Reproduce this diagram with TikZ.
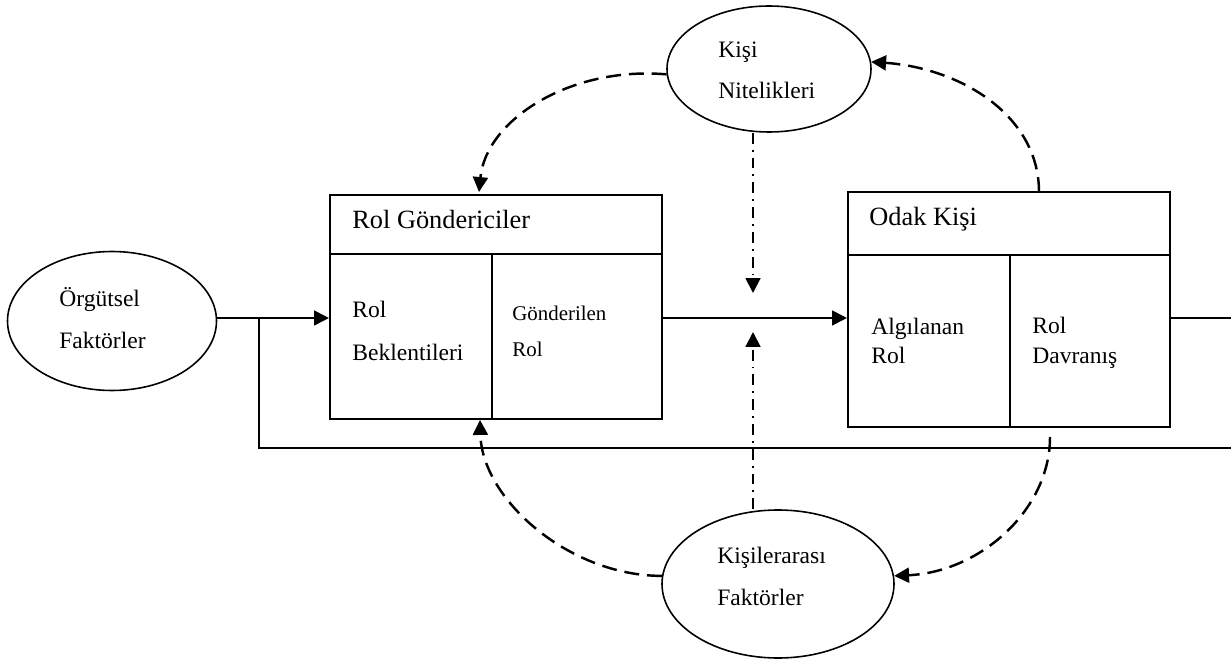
\documentclass[tikz,border=0pt]{standalone}
\usepackage{fontspec}
\setmainfont{Liberation Serif}
\usetikzlibrary{arrows.meta,shapes.geometric}
\newcommand\pxl[1]{#1*0.02cm}
\begin{document}
\begin{tikzpicture}[x=0.02cm,y=-0.02cm,
  frame/.style={draw, line width=1.2pt, inner sep=0pt, rectangle},
  oval/.style={draw, ellipse, line width=0.9pt, inner sep=0pt},
  lbl/.style={anchor=base west, inner sep=0pt, font=\fontsize{13.4}{16}\selectfont},
  head/.style={lbl, font=\fontsize{15}{18}\selectfont},
  small/.style={lbl, font=\fontsize{11.9}{14}\selectfont},
  flow/.style={line width=1.1pt},
  tip/.style={-{Triangle[length=8.5pt,width=8.5pt]}},
  fb/.style={line width=0.9pt},
  loopline/.style={line width=1.4pt, dash pattern=on 8.5pt off 4.5pt},
  dd/.style={line width=1.1pt, dash pattern=on 6.2pt off 3.4pt on 1.1pt off 3.4pt}]
\useasboundingbox (0,0) rectangle (1231,662);

% role senders block
\node[frame, minimum width=\pxl{332}, minimum height=\pxl{59}] (rgHead) at (496,224.5) {};
\node[frame, minimum width=\pxl{162}, minimum height=\pxl{165}] (rgLeft) at (411,336.5) {};
\node[frame, minimum width=\pxl{170}, minimum height=\pxl{165}] (rgRight) at (577,336.5) {};

% focal person block
\node[frame, minimum width=\pxl{322}, minimum height=\pxl{63}] (okHead) at (1009,223.5) {};
\node[frame, minimum width=\pxl{162}, minimum height=\pxl{172}] (okLeft) at (929,341) {};
\node[frame, minimum width=\pxl{160}, minimum height=\pxl{172}] (okRight) at (1090,341) {};

% ovals
\node[oval, minimum width=\pxl{209}, minimum height=\pxl{139}] (org) at (112,321) {};
\node[oval, minimum width=\pxl{204}, minimum height=\pxl{126}] (kn) at (769,69) {};
\node[oval, minimum width=\pxl{232}, minimum height=\pxl{148}] (kf) at (778,584) {};

% labels
\node[lbl] (tOrg1) at (59,307) {Örgütsel};
\node[lbl] (tOrg2) at (59,349) {Faktörler};
\node[head] (tRg) at (352,229) {Rol Göndericiler};
\node[lbl] (tRb1) at (352,317) {Rol};
\node[lbl] (tRb2) at (352,360) {Beklentileri};
\node[small] (tGr1) at (512,320) {Gönderilen};
\node[small] (tGr2) at (512,357) {Rol};
\node[head] (tOk) at (869,226) {Odak Kişi};
\node[lbl] (tAr1) at (871,335) {Algılanan};
\node[lbl] (tAr2) at (871,363) {Rol};
\node[lbl] (tRd1) at (1032,334) {Rol};
\node[lbl] (tRd2) at (1032,363) {Davranış};
\node[lbl] (tKn1) at (718,58) {Kişi};
\node[lbl] (tKn2) at (718,99) {Nitelikleri};
\node[lbl] (tKf1) at (717,563) {Kişilerarası};
\node[lbl] (tKf2) at (717,605) {Faktörler};

% helper points
\coordinate (mainY) at (0,318);
\coordinate (branch) at (259,318);
\coordinate (fbEnd) at (1231,448);
\coordinate (outR) at (1231,318);
\coordinate (rgIn) at (479,192);
\coordinate (rgUp) at (480,420);
\coordinate (okOut) at (1039,192);
\coordinate (okDown) at (1050,437);
\coordinate (midTop) at (753,293);
\coordinate (midBot) at (753,332);

% main flow
\draw[flow, tip] (org.east |- mainY) -- (rgLeft.west |- mainY);
\draw[fb] (branch) |- (fbEnd);
\draw[flow, tip] (rgRight.east |- mainY) -- (okLeft.west |- mainY);
\draw[flow] (okRight.east |- mainY) -- (outR);

% feedback loops
\draw[loopline, tip] (kn.183) .. controls (570,66) and (486,120) .. (rgIn);
\draw[loopline, tip] (okOut) .. controls (1039,115) and (960,68) .. (kn.4);
\draw[loopline, tip] (okDown) .. controls (1050,510) and (980,572) .. (kf.4);
\draw[loopline, tip] (kf.176) .. controls (570,576) and (482,500) .. (rgUp);

% influences on the sent role
\draw[dd, tip] (kn.south -| midTop) -- (midTop);
\draw[dd, tip] (kf.north -| midBot) -- (midBot);
\end{tikzpicture}
\end{document}
